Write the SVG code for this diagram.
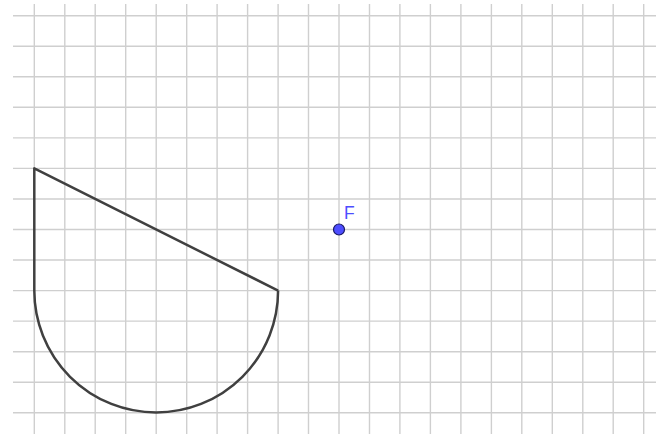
<svg xmlns="http://www.w3.org/2000/svg" width="664" height="437" viewBox="0 0 664 437">
<style>
.g{stroke:#cfcfcf;stroke-width:1.4;fill:none}
.s{stroke:#404040;stroke-width:2.5;fill:none;stroke-linejoin:round}
</style>
<rect width="664" height="437" fill="#ffffff"/>
<g id="grid" class="g">
<path d="M34.3 4V434M64.8 4V434M95.2 4V434M125.7 4V434M156.2 4V434M186.7 4V434M217.1 4V434M247.6 4V434M278.1 4V434M308.5 4V434M339 4V434M369.5 4V434M399.9 4V434M430.4 4V434M460.9 4V434M491.4 4V434M521.8 4V434M552.3 4V434M582.8 4V434M613.2 4V434M643.7 4V434"/>
<path d="M13 15.7H656M13 46.2H656M13 76.8H656M13 107.3H656M13 137.9H656M13 168.4H656M13 199H656M13 229.5H656M13 260H656M13 290.6H656M13 321.1H656M13 351.7H656M13 382.2H656M13 412.7H656"/>
</g>
<g id="shape">
<path class="s" d="M278.1 290.6L34.3 168.4V290.6A121.9 121.9 0 0 0 278.1 290.6"/>
</g>
<g id="F">
<circle cx="339" cy="229.5" r="5.5" fill="#4d4dff" stroke="#1a1a66" stroke-width="1.2"/>
<text x="344" y="218.5" font-family="Liberation Sans, Arial, sans-serif" font-size="17.5" fill="#4d4dff">F</text>
</g>
</svg>
